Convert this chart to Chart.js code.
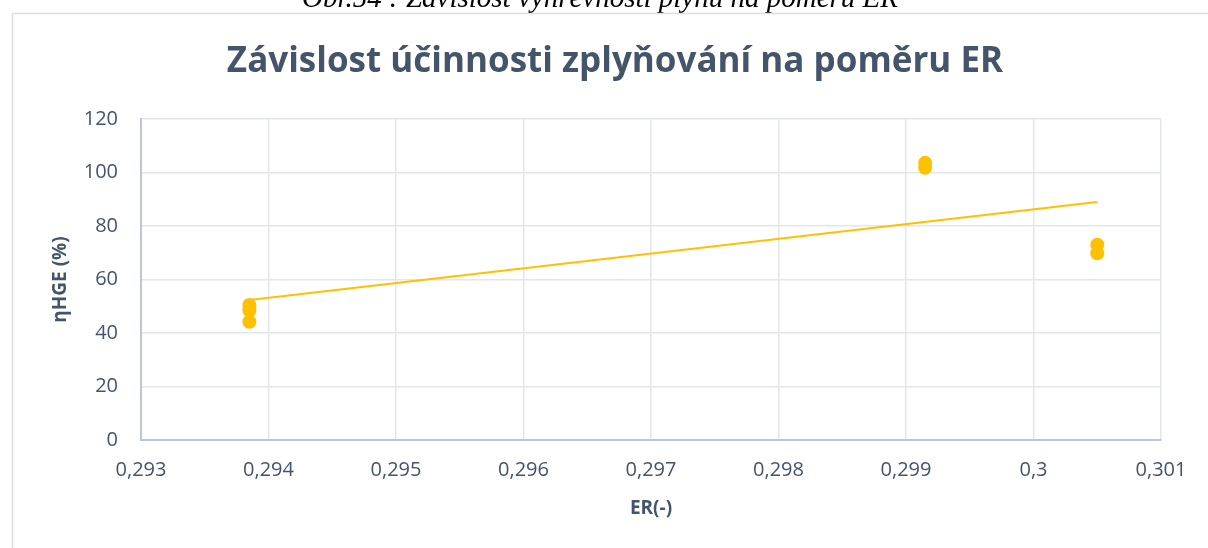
<!DOCTYPE html>
<html>
<head>
<meta charset="utf-8">
<script src="https://cdn.jsdelivr.net/npm/chart.js@4.4.1/dist/chart.umd.min.js"></script>
<style>
  html, body { margin: 0; padding: 0; background: #fff; }
  #wrap { width: 1208px; height: 548px; position: relative; }
</style>
</head>
<body>
<div id="wrap"><canvas id="erChart" width="1208" height="548"></canvas></div>
<script>
// ===== DATA =====
const erValues = [0.29385, 0.29385, 0.29385, 0.29915, 0.29915, 0.3005, 0.3005];
const hgeValues = [50.5, 48.5, 44.2, 103.6, 101.8, 73.0, 69.8];
const trendEr = [0.29385, 0.3005];
const trendHge = [52.3, 89.0];
const xTickLabels = ['0,293', '0,294', '0,295', '0,296', '0,297', '0,298', '0,299', '0,3', '0,301'];
const yTickLabels = ['0', '20', '40', '60', '80', '100', '120'];

const textColor = '#44546A';
const gold = '#FFC000';

// ===== FRAME + CAPTION =====
const framePlugin = {
  id: 'frame',
  beforeDraw(chart) {
    const ctx = chart.ctx;
    ctx.save();
    ctx.fillStyle = '#fff';
    ctx.fillRect(0, 0, chart.width, chart.height);
    // cut-off caption above the chart box
    ctx.font = 'italic 29px "Liberation Serif"';
    ctx.fillStyle = '#000';
    ctx.textAlign = 'center';
    ctx.textBaseline = 'alphabetic';
    ctx.fillText('Obr.54 : Závislost výhřevnosti plynu na poměru ER', 600, 7);
    // chart box border
    ctx.strokeStyle = '#DEDFE3';
    ctx.lineWidth = 1.5;
    ctx.beginPath();
    ctx.moveTo(12.5, chart.height);
    ctx.lineTo(12.5, 13.5);
    ctx.lineTo(chart.width, 13.5);
    ctx.stroke();
    ctx.restore();
  }
};

Chart.defaults.font.family = "'Open Sans', sans-serif";
Chart.defaults.color = textColor;

const ctx = document.getElementById('erChart').getContext('2d');

new Chart(ctx, {
  type: 'scatter',
  data: {
    datasets: [{
      label: 'ηHGE',
      data: erValues.map((x, i) => ({ x: x, y: hgeValues[i] })),
      backgroundColor: gold,
      borderColor: gold,
      pointRadius: 7,
      pointBorderWidth: 0,
      order: 2
    }, {
      type: 'line',
      label: 'Lineární (ηHGE)',
      data: trendEr.map((x, i) => ({ x: x, y: trendHge[i] })),
      borderColor: gold,
      borderWidth: 2,
      pointRadius: 0,
      fill: false,
      order: 1
    }]
  },
  options: {
    responsive: false,
    animation: false,
    layout: {
      padding: { left: 40, right: 18, top: 41, bottom: 0 }
    },
    plugins: {
      legend: { display: false },
      tooltip: { enabled: false },
      title: {
        display: true,
        text: 'Závislost účinnosti zplyňování na poměru ER',
        color: textColor,
        font: { size: 35, weight: 'bold' },
        padding: { top: 0, bottom: 36 }
      }
    },
    scales: {
      x: {
        type: 'linear',
        min: 0.293,
        max: 0.301,
        afterFit(scale) { scale.height = 108; },
        ticks: {
          stepSize: 0.001,
          padding: 18,
          font: { size: 20 },
          color: textColor,
          maxRotation: 0,
          callback: function(value, index) { return xTickLabels[index]; }
        },
        grid: { color: '#E3E6EB', lineWidth: 1.5, drawTicks: false },
        border: { color: '#BCC6D6', width: 2 },
        title: {
          display: true,
          text: 'ER(-)',
          color: textColor,
          font: { size: 19, weight: 'bold' },
          padding: { top: 0, bottom: 28 }
        }
      },
      y: {
        min: 0,
        max: 120,
        afterFit(scale) { scale.width = 101; },
        ticks: {
          stepSize: 20,
          padding: 23,
          font: { size: 20 },
          color: textColor,
          callback: function(value, index) { return yTickLabels[index]; }
        },
        grid: { color: '#E3E6EB', lineWidth: 1.5, drawTicks: false },
        border: { color: '#BCC6D6', width: 2 },
        title: {
          display: true,
          text: 'ηHGE (%)',
          color: textColor,
          font: { size: 19, weight: 'bold' },
          padding: { top: 9, bottom: 0 }
        }
      },
      // empty right-hand spacer so the plot ends where the reference does
      yRight: {
        position: 'right',
        afterFit(scale) { scale.width = 29; },
        ticks: { display: false },
        grid: { display: false, drawTicks: false },
        border: { display: false }
      }
    }
  },
  plugins: [framePlugin]
});
</script>
</body>
</html>
